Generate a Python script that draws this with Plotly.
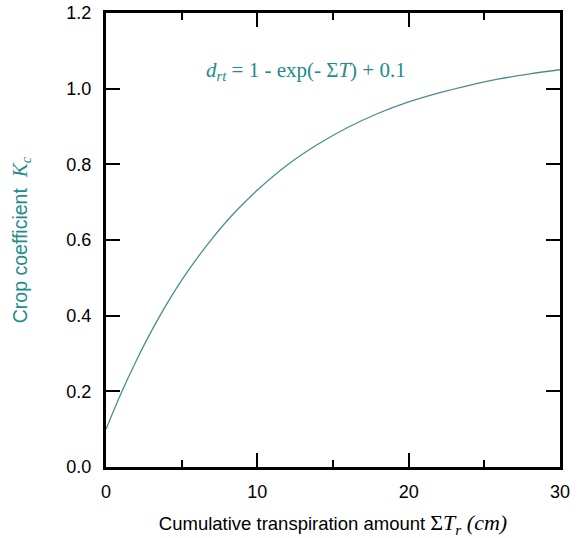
import plotly.graph_objects as go

# Cumulative transpiration (cm) and crop coefficient
transpiration = [0, 1, 2, 3, 4, 5, 6, 7, 8, 9, 10, 12, 14, 16, 18, 20, 22, 24, 26, 28, 30]
crop_coeff = [0.10, 0.195, 0.281, 0.359, 0.430, 0.494, 0.551, 0.603, 0.651, 0.693, 0.732,
              0.799, 0.853, 0.898, 0.935, 0.965, 0.989, 1.009, 1.026, 1.039, 1.050]

x_ticks = [0, 10, 20, 30]
y_ticks = [0.0, 0.2, 0.4, 0.6, 0.8, 1.0, 1.2]

TEAL = "#228b8b"
LINE = "#4a8e8e"
SERIF = "Liberation Serif, Times New Roman, serif"
SANS = "Liberation Sans, Arial, Helvetica, sans-serif"

fig = go.Figure()
fig.add_trace(go.Scatter(
    x=transpiration, y=crop_coeff, mode="lines",
    line=dict(color=LINE, width=1.3, shape="spline"),
    showlegend=False, hoverinfo="skip",
))

axis_common = dict(
    showline=True, linecolor="black", linewidth=3, mirror="allticks",
    ticks="inside", ticklen=14, tickwidth=2, tickcolor="black",
    showgrid=False, zeroline=False, automargin=False,
    tickfont=dict(family=SANS, size=18, color="black"),
)

fig.update_xaxes(
    range=[0, 30], tickvals=x_ticks, ticktext=[str(v) for v in x_ticks],
    ticklabelstandoff=6,
    minor=dict(dtick=5, ticks="inside", ticklen=7, tickwidth=2, tickcolor="black", showgrid=False),
    title=dict(
        text=("Cumulative transpiration amount "
              "<span style='font-family:Liberation Serif;font-size:22px'>Σ<i>T</i>"
              "<sub><i>r</i></sub> <i>(cm)</i></span>"),
        font=dict(family=SANS, size=18.5, color="black"), standoff=22,
    ),
    **axis_common,
)
fig.update_yaxes(
    range=[0, 1.2], tickvals=y_ticks, ticktext=[f"{v:.1f}" for v in y_ticks],
    ticklabelstandoff=8,
    title=dict(
        text=("Crop coefficient  <span style='font-family:Liberation Serif;font-size:21px'>"
              "<i>K<sub>c</sub></i></span>"),
        font=dict(family=SANS, size=19.5, color=TEAL), standoff=34,
    ),
    **axis_common,
)

fig.add_annotation(
    xref="paper", yref="paper", x=0.44, y=0.872,
    text="<i>d</i><sub><i>rt</i></sub> = 1 - exp(- Σ<i>T</i>) + 0.1",
    showarrow=False, font=dict(family=SERIF, size=21, color=TEAL),
    xanchor="center", yanchor="middle",
)

fig.update_layout(
    width=577, height=538,
    margin=dict(l=106, r=17, t=13, b=71),
    paper_bgcolor="white", plot_bgcolor="white",
)

fig.write_html("out.html")
